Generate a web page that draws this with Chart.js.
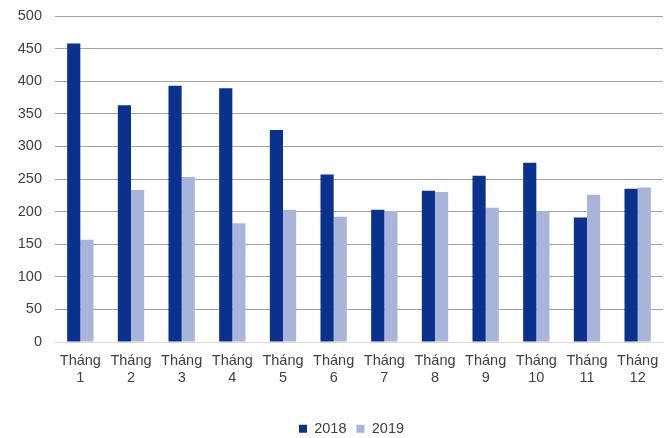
<!DOCTYPE html>
<html lang="vi">
<head>
  <meta charset="UTF-8">
  <title>Tháng 2018 - 2019</title>
  <script src="https://cdn.jsdelivr.net/npm/chart.js"></script>
  <style>
    html, body {
      margin: 0;
      padding: 0;
      background: #fff;
    }
    #wrap {
      width: 670px;
      height: 438px;
    }
  </style>
</head>
<body>
  <div id="wrap"><canvas id="monthChart" width="670" height="438"></canvas></div>

  <script>
    const months = [1, 2, 3, 4, 5, 6, 7, 8, 9, 10, 11, 12];
    const values2018 = [458, 363, 393, 389, 325, 257, 203, 232, 255, 275, 191, 235];
    const values2019 = [157, 233, 253, 182, 203, 192, 201, 230, 206, 200, 226, 237];
    const yTicks = [0, 50, 100, 150, 200, 250, 300, 350, 400, 450, 500];

    const labels = months.map(m => ["Tháng", String(m)]);
    const textColor = "#404040";
    const font = { family: "Arial, 'Liberation Sans', sans-serif", size: 14.5, lineHeight: 1.18 };

    // nudge the legend a bit right and down from where the layout puts it
    const legendShift = {
      id: "legendShift",
      afterLayout(chart) {
        const lg = chart.legend;
        if (!lg) return;
        lg.left += 20;
        lg.right += 20;
        lg.top += 8;
        lg.bottom += 8;
      }
    };

    const ctx = document.getElementById("monthChart").getContext("2d");
    new Chart(ctx, {
      type: "bar",
      data: {
        labels: labels,
        datasets: [
          {
            label: "2018",
            data: values2018,
            backgroundColor: "#0B318F",
            categoryPercentage: 0.52,
            barPercentage: 1
          },
          {
            label: "2019",
            data: values2019,
            backgroundColor: "#A9B4DA",
            categoryPercentage: 0.52,
            barPercentage: 1
          }
        ]
      },
      plugins: [legendShift],
      options: {
        responsive: false,
        animation: false,
        layout: {
          padding: { left: 0, right: 7, top: 16, bottom: 0 }
        },
        plugins: {
          tooltip: { enabled: false },
          legend: {
            position: "bottom",
            labels: {
              boxWidth: 8,
              boxHeight: 8,
              padding: 10,
              color: textColor,
              font: font
            }
          }
        },
        scales: {
          x: {
            grid: { display: false, drawTicks: false },
            border: { color: "#d9d9d9", width: 1 },
            ticks: {
              color: textColor,
              font: font,
              padding: 10,
              maxRotation: 0,
              autoSkip: false
            },
            afterFit: scale => { scale.height = 61.5; }
          },
          y: {
            min: 0,
            max: 500,
            afterBuildTicks: scale => {
              scale.ticks = yTicks.map(v => ({ value: v }));
            },
            grid: {
              drawTicks: false,
              color: c => (c.tick && c.tick.value === 0 ? "#d9d9d9" : "#a3a3a3"),
              lineWidth: 1
            },
            border: { display: false },
            ticks: {
              color: textColor,
              font: font,
              padding: 13
            },
            afterFit: scale => {
              scale.width = 55;
              scale.paddingTop = 8;
              scale.paddingBottom = 8;
            }
          }
        }
      }
    });
  </script>
</body>
</html>
